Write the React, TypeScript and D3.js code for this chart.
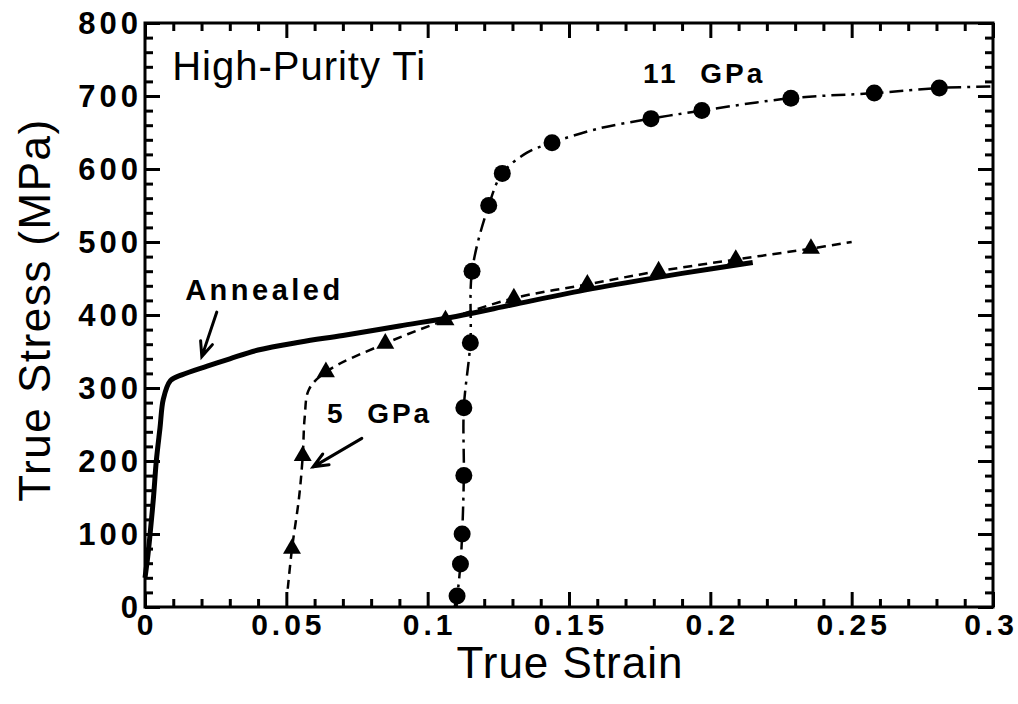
import React, { useRef, useEffect } from "react";
import * as d3 from "d3";

// annealed curve (solid)
const annealedStrain = [0, 0.001, 0.0018, 0.003, 0.004, 0.0053, 0.0065, 0.009, 0.013, 0.022, 0.03, 0.04, 0.055, 0.07, 0.09, 0.11, 0.13, 0.15, 0.17, 0.19, 0.215];
const annealedStress = [40, 70, 100, 150, 200, 245, 285, 310, 318, 330, 340, 352, 363, 372, 385, 398, 414, 430, 444, 457, 472];

// 5 GPa: dashed line + triangles
const gpa5LineStrain = [0.0505, 0.052, 0.0545, 0.0558, 0.0565, 0.058, 0.064, 0.085, 0.1063, 0.1305, 0.1565, 0.1817, 0.209, 0.2356, 0.25];
const gpa5LineStress = [25, 80, 150, 207, 260, 298, 322, 361, 393, 423, 442, 460, 476, 491, 500];
const gpa5PtStrain = [0.052, 0.0558, 0.064, 0.085, 0.1063, 0.1305, 0.1565, 0.1817, 0.209, 0.2356];
const gpa5PtStress = [80, 207, 322, 361, 393, 423, 442, 460, 476, 491];

// 11 GPa: dash-dot line + circles
const gpa11LineStrain = [0.1095, 0.1104, 0.1116, 0.1122, 0.1128, 0.1128, 0.1151, 0.1157, 0.1216, 0.1264, 0.135, 0.144, 0.16, 0.179, 0.197, 0.2285, 0.258, 0.281, 0.3];
const gpa11LineStress = [0, 15, 59, 100, 180, 273, 362, 460, 550, 594, 622, 636, 655, 669, 680, 697, 704, 711, 713];
const gpa11PtStrain = [0.1104, 0.1116, 0.1122, 0.1128, 0.1128, 0.1151, 0.1157, 0.1216, 0.1264, 0.144, 0.179, 0.197, 0.2285, 0.258, 0.281];
const gpa11PtStress = [15, 59, 100, 180, 273, 362, 460, 550, 594, 636, 669, 680, 697, 704, 711];

const xTicks = [0, 0.05, 0.1, 0.15, 0.2, 0.25, 0.3];
const xTickLabels = ["0", "0.05", "0.1", "0.15", "0.2", "0.25", "0.3"];
const yTicks = [0, 100, 200, 300, 400, 500, 600, 700, 800];

const FONT = "'Liberation Sans', Arial, Helvetica, sans-serif";

export default function App() {
  const ref = useRef<SVGSVGElement>(null);

  useEffect(() => {
    const svg = d3.select(ref.current);
    svg.selectAll("*").remove();

    const x = d3.scaleLinear().domain([0, 0.3]).range([145, 993]);
    const y = d3.scaleLinear().domain([0, 800]).range([607, 23]);

    const xMinor = d3.range(0, 0.3001, 0.01).filter((v) => Math.abs(v * 20 - Math.round(v * 20)) > 1e-6);
    const yMinor = d3.range(0, 800.1, 20).filter((v) => v % 100 !== 0);

    const style = (g: any) => {
      g.select(".domain").remove();
      g.selectAll("line").attr("stroke", "#000").attr("stroke-width", 3);
    };

    // major/minor ticks on all four sides, pointing inward
    const axes = [
      { a: d3.axisBottom(x), t: `translate(0,${y(0)})`, vals: xTicks, minor: xMinor },
      { a: d3.axisTop(x), t: `translate(0,${y(800)})`, vals: xTicks, minor: xMinor },
      { a: d3.axisLeft(y), t: `translate(${x(0)},0)`, vals: yTicks, minor: yMinor },
      { a: d3.axisRight(y), t: `translate(${x(0.3)},0)`, vals: yTicks, minor: yMinor },
    ];
    axes.forEach(({ a, t, vals, minor }) => {
      svg.append("g").attr("transform", t)
        .call(a.tickValues(vals as any).tickSize(-15).tickFormat(() => ""))
        .call(style);
      svg.append("g").attr("transform", t)
        .call(a.tickValues(minor as any).tickSize(-8).tickFormat(() => ""))
        .call(style);
    });

    svg.append("rect")
      .attr("x", x(0)).attr("y", y(800))
      .attr("width", x(0.3) - x(0)).attr("height", y(0) - y(800))
      .attr("fill", "none").attr("stroke", "#000").attr("stroke-width", 3);

    // tick labels
    svg.append("g").selectAll("text").data(xTicks).join("text")
      .attr("x", (d, i) => x(d) + (i === xTicks.length - 1 ? -2 : 2)).attr("y", 635)
      .attr("text-anchor", "middle")
      .attr("font-family", FONT).attr("font-weight", "bold")
      .attr("font-size", 30).attr("letter-spacing", 4)
      .text((d, i) => xTickLabels[i]);

    svg.append("g").selectAll("text").data(yTicks).join("text")
      .attr("x", 142).attr("y", (d) => y(d)).attr("dy", "0.36em")
      .attr("text-anchor", "end")
      .attr("font-family", FONT).attr("font-weight", "bold")
      .attr("font-size", 31).attr("letter-spacing", 4)
      .text((d) => String(d));

    // axis titles
    svg.append("text")
      .attr("x", 570).attr("y", 678).attr("text-anchor", "middle")
      .attr("font-family", FONT).attr("font-size", 44).attr("letter-spacing", 1)
      .text("True Strain");
    svg.append("text")
      .attr("transform", "translate(50,310) rotate(-90)").attr("text-anchor", "middle")
      .attr("font-family", FONT).attr("font-size", 44).attr("letter-spacing", 1.5)
      .text("True Stress (MPa)");

    const drawLine = (xs: number[], ys: number[], width: number, dash: string | null) => {
      const l = d3.line<number>()
        .x((i) => x(xs[i]))
        .y((i) => y(ys[i]))
        .curve(d3.curveCatmullRom.alpha(0.5));
      svg.append("path")
        .attr("d", l(d3.range(xs.length)))
        .attr("fill", "none").attr("stroke", "#000")
        .attr("stroke-width", width)
        .attr("stroke-dasharray", dash)
        .attr("stroke-linejoin", "round");
    };

    drawLine(annealedStrain, annealedStress, 5, null);
    drawLine(gpa5LineStrain, gpa5LineStress, 2.5, "9,6");
    drawLine(gpa11LineStrain, gpa11LineStress, 2.5, "14,6,3,6");

    svg.append("g").selectAll("path").data(d3.range(gpa5PtStrain.length)).join("path")
      .attr("d", d3.symbol(d3.symbolTriangle, 140)() as string)
      .attr("transform", (i) => `translate(${x(gpa5PtStrain[i])},${y(gpa5PtStress[i])})`)
      .attr("fill", "#000");

    svg.append("g").selectAll("circle").data(d3.range(gpa11PtStrain.length)).join("circle")
      .attr("cx", (i) => x(gpa11PtStrain[i])).attr("cy", (i) => y(gpa11PtStress[i]))
      .attr("r", 8.5).attr("fill", "#000");

    // annotations
    const label = (sx: number, sy: number, txt: string, bold: boolean, size: number, ls: number) => {
      svg.append("text")
        .attr("x", x(sx)).attr("y", y(sy))
        .attr("font-family", FONT).attr("font-size", size)
        .attr("font-weight", bold ? "bold" : "normal")
        .attr("letter-spacing", ls)
        .style("white-space", "pre")
        .text(txt);
    };
    label(0.0096, 722, "High-Purity Ti", false, 40, 1);
    label(0.1762, 718, "11  GPa", true, 28, 3);
    label(0.0644, 252, "5  GPa", true, 28, 3);
    label(0.0142, 420, "Annealed", true, 29, 3.5);

    const arrow = (x0: number, y0: number, x1: number, y1: number) => {
      const ax = x(x0), ay = y(y0), bx = x(x1), by = y(y1);
      const ang = Math.atan2(by - ay, bx - ax);
      const h = 16, spread = 0.4;
      const p1 = [bx - h * Math.cos(ang - spread), by - h * Math.sin(ang - spread)];
      const p2 = [bx - h * Math.cos(ang + spread), by - h * Math.sin(ang + spread)];
      svg.append("path")
        .attr("d", `M${ax},${ay}L${bx},${by}M${p1[0]},${p1[1]}L${bx},${by}L${p2[0]},${p2[1]}`)
        .attr("fill", "none").attr("stroke", "#000").attr("stroke-width", 3)
        .attr("stroke-linecap", "round");
    };
    arrow(0.0254, 404, 0.0201, 343);
    arrow(0.0767, 231, 0.0595, 192);
  }, []);

  return (
    <svg
      ref={ref}
      width={1018}
      height={704}
      style={{ position: "absolute", left: 0, top: 0, background: "#fff" }}
    />
  );
}
